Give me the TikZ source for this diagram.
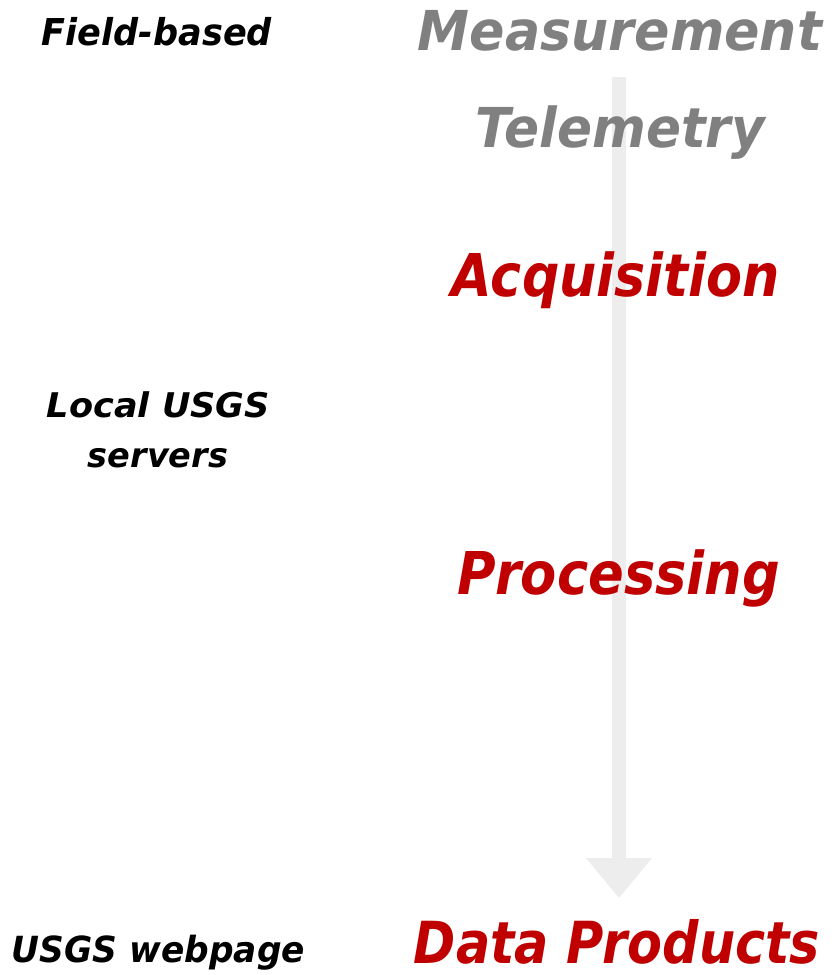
\documentclass[tikz,border=0pt]{standalone}
\usepackage{fontspec}
\usepackage{graphicx}
\setmainfont{DejaVu Sans}
\definecolor{txtgray}{RGB}{128,128,128}
\definecolor{txtred}{RGB}{192,0,0}
\definecolor{arrowgray}{RGB}{237,237,237}
\newcommand\fitw[2]{\resizebox{#1}{\height}{#2}}
\newcommand\nodepth[1]{\raisebox{0pt}[\height][0pt]{#1}}
\tikzset{
  lbl/.style={anchor=base, inner sep=0pt, outer sep=0pt, font=\bfseries\itshape},
  stage/.style={lbl, text=txtgray},
  keystage/.style={lbl, text=txtred},
  place/.style={lbl, text=black},
}
\begin{document}
\begin{tikzpicture}[x=1pt,y=-1pt]
\useasboundingbox (0,0) rectangle (831,975);
% background block arrow
\coordinate (shaftTL) at (612,77);
\coordinate (shaftTR) at (626,77);
\fill[arrowgray] (shaftTL) -- (shaftTR) -- (626,858) -- (652,858) -- (619,898)
  -- (586,858) -- (612,858) -- cycle;
% stages
\node[stage] (meas) at (620,50) {\fontsize{55}{60}\selectfont\fitw{404pt}{Measurement}};
\node[stage] (tele) at (620.5,147) {\fontsize{55}{60}\selectfont\fitw{289pt}{Telemetry}};
\node[keystage] (acq) at (616,296) {\fontsize{59}{64}\selectfont\fitw{328pt}{Acquisition}};
\node[keystage] (proc) at (619,594) {\fontsize{59}{64}\selectfont\fitw{322pt}{Processing}};
\node[keystage] (data) at (617,963) {\fontsize{58}{63}\selectfont\nodepth{\fitw{406pt}{Data Products}}};
% places
\node[place] (field) at (157,45) {\fontsize{37}{40}\selectfont\fitw{230pt}{Field-based}};
\node[place] (local) at (158.5,417) {\fontsize{34}{38}\selectfont\fitw{223pt}{Local USGS}};
\node[place] (serv) at (158,467) {\fontsize{34}{38}\selectfont\fitw{140pt}{servers}};
\node[place] (web) at (158.5,962) {\fontsize{36}{40}\selectfont\fitw{293pt}{USGS webpage}};
\end{tikzpicture}
\end{document}
